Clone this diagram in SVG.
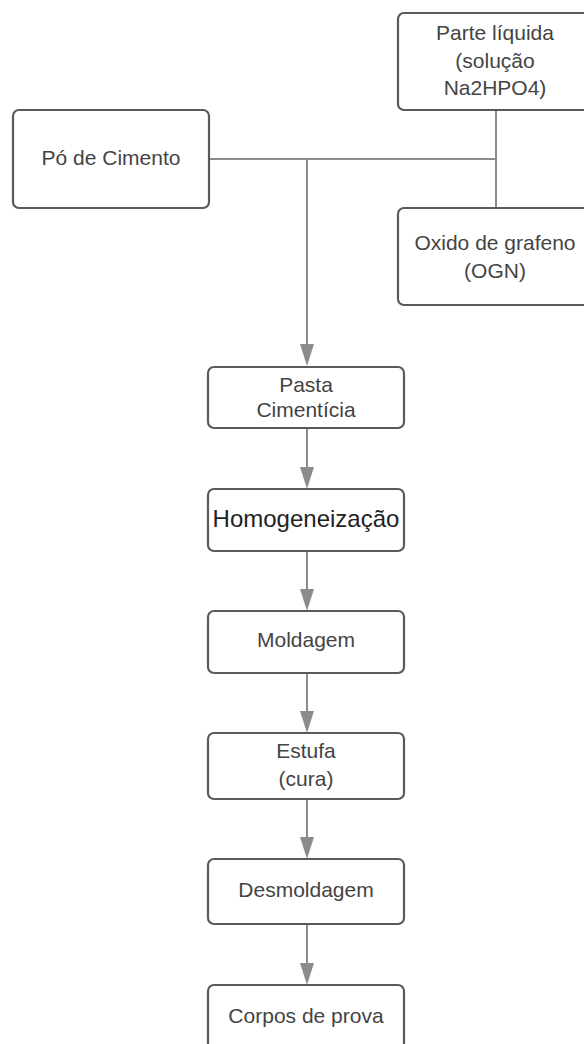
<svg xmlns="http://www.w3.org/2000/svg" width="584" height="1044" viewBox="0 0 584 1044">
<style>
.box{fill:#fff;stroke:#5a5a5a;stroke-width:2.2}
.t{font-family:"Liberation Sans",Arial,sans-serif;font-size:21px;fill:#444;text-anchor:middle}
.big{font-size:24px;fill:#222}
.ln{fill:none;stroke:#8c8c8c;stroke-width:2}
.arr{marker-end:url(#ah)}
</style>
<defs>
<marker id="ah" markerUnits="userSpaceOnUse" markerWidth="22" markerHeight="14" refX="10" refY="7" orient="auto" viewBox="0 0 22 14">
<path d="M0,0 L22,7 L0,14 Z" fill="#8c8c8c"/>
</marker>
</defs>
<rect width="584" height="1044" fill="#fff"/>
<g id="connectors">
<path class="ln" d="M209,159 H496"/>
<path class="ln" d="M496,110 V208"/>
<path class="ln arr" d="M307,159 V354"/>
<path class="ln arr" d="M307,428 V477"/>
<path class="ln arr" d="M307,551 V599"/>
<path class="ln arr" d="M307,673 V721"/>
<path class="ln arr" d="M307,799 V847"/>
<path class="ln arr" d="M307,924 V973"/>
</g>
<g id="po-cimento">
<rect class="box" x="13" y="110" width="196" height="98" rx="6"/>
<text class="t" x="111" y="165">Pó de Cimento</text>
</g>
<g id="parte-liquida">
<rect class="box" x="398" y="13" width="196" height="97" rx="6"/>
<text class="t" x="495" y="40">Parte líquida</text>
<text class="t" x="495" y="68">(solução</text>
<text class="t" x="495" y="95">Na2HPO4)</text>
</g>
<g id="oxido-grafeno">
<rect class="box" x="398" y="208" width="196" height="97" rx="6"/>
<text class="t" x="495" y="250">Oxido de grafeno</text>
<text class="t" x="495" y="278">(OGN)</text>
</g>
<g id="pasta">
<rect class="box" x="208" y="367" width="196" height="61" rx="6"/>
<text class="t" x="306" y="392">Pasta</text>
<text class="t" x="306" y="417">Cimentícia</text>
</g>
<g id="homogeneizacao">
<rect class="box" x="208" y="489" width="196" height="62" rx="6"/>
<text class="t big" x="306" y="527">Homogeneização</text>
</g>
<g id="moldagem">
<rect class="box" x="208" y="611" width="196" height="62" rx="6"/>
<text class="t" x="306" y="647">Moldagem</text>
</g>
<g id="estufa">
<rect class="box" x="208" y="733" width="196" height="66" rx="6"/>
<text class="t" x="306" y="758">Estufa</text>
<text class="t" x="306" y="786">(cura)</text>
</g>
<g id="desmoldagem">
<rect class="box" x="208" y="859" width="196" height="65" rx="6"/>
<text class="t" x="306" y="897">Desmoldagem</text>
</g>
<g id="corpos">
<rect class="box" x="208" y="985" width="196" height="80" rx="6"/>
<text class="t" x="306" y="1023">Corpos de prova</text>
</g>
</svg>
